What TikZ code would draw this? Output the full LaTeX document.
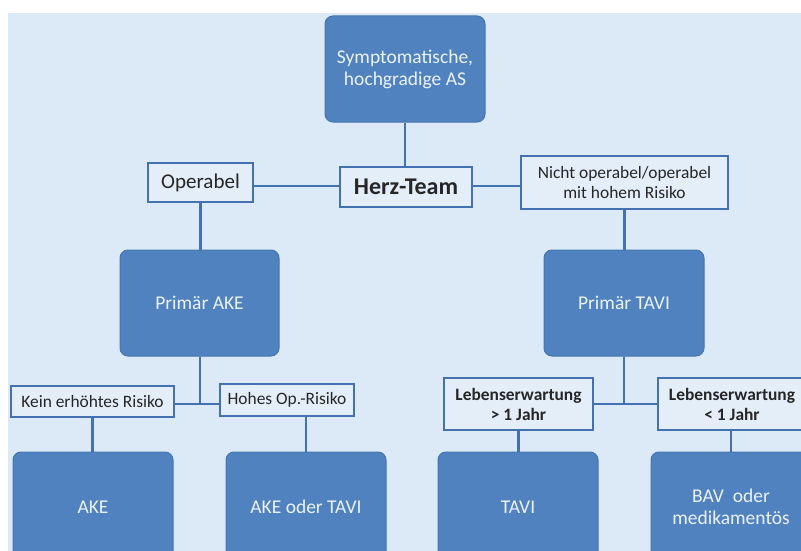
\documentclass[tikz,border=0pt]{standalone}
\usepackage{fontspec}
\setmainfont{Carlito}
\definecolor{bgblue}{RGB}{220,233,246}
\definecolor{lblfill}{RGB}{228,238,249}
\definecolor{boxblue}{RGB}{79,130,190}
\definecolor{boxedge}{RGB}{70,118,176}
\definecolor{linecol}{RGB}{68,114,176}
\definecolor{boxtext}{RGB}{236,242,250}
\tikzset{
  bluebox/.style={draw=boxedge, line width=1pt, fill=boxblue, rounded corners=8pt, text=boxtext, align=center, inner sep=0pt, font=\fontsize{19.5}{22}\selectfont},
  lblbox/.style={draw=linecol, line width=2.6pt, fill=lblfill, text=black!85, align=center, inner sep=0pt, font=\fontsize{17.4}{20}\selectfont},
  conn/.style={draw=linecol, line width=2.8pt}
}
\begin{document}
\begin{tikzpicture}[x=1pt, y=-1pt]
\useasboundingbox (0,0) rectangle (801,551);
\begin{scope}
\clip (0,0) rectangle (801,551);
\fill[white] (0,0) rectangle (801,551);
\fill[bgblue] (8,13) rectangle (801,551);

% blue boxes
\node[bluebox, minimum width=160pt, minimum height=106pt] (top) at (405,69) {Symptomatische,\\hochgradige AS};
\node[bluebox, minimum width=159pt, minimum height=106pt] (pake) at (199.5,303) {Primär AKE};
\node[bluebox, minimum width=160pt, minimum height=106pt] (ptavi) at (624,303) {Primär TAVI};
\node[bluebox, minimum width=160pt, minimum height=110pt] (ake) at (93,507) {AKE};
\node[bluebox, minimum width=160pt, minimum height=110pt] (akt) at (306,507) {AKE oder TAVI};
\node[bluebox, minimum width=160pt, minimum height=110pt] (tavi) at (518,507) {TAVI};
\node[bluebox, minimum width=160pt, minimum height=110pt] (bav) at (731,507) {BAV\ \ oder\\medikamentös};

% label boxes
\node[lblbox, minimum width=132pt, minimum height=40pt, font=\fontsize{24}{26}\selectfont\bfseries] (herz) at (406,187) {Herz-Team};
\node[lblbox, minimum width=105pt, minimum height=39pt, font=\fontsize{21}{24}\selectfont] (oper) at (200.5,182.5) {Operabel};
\node[lblbox, minimum width=207pt, minimum height=53pt] (nicht) at (624.5,182.5) {Nicht operabel/operabel\\mit hohem Risiko};
\node[lblbox, minimum width=163pt, minimum height=31pt] (kein) at (92.5,401.5) {Kein erhöhtes Risiko};
\node[lblbox, minimum width=134pt, minimum height=32pt] (hohes) at (287,400) {Hohes Op.-Risiko};
\node[lblbox, minimum width=149pt, minimum height=52pt, font=\fontsize{17.4}{20}\selectfont\bfseries] (leb1) at (518.5,404) {Lebenserwartung\\> 1 Jahr};
\node[lblbox, minimum width=148pt, minimum height=52pt, font=\fontsize{17.4}{20}\selectfont\bfseries] (leb2) at (732,404) {Lebenserwartung\\< 1 Jahr};

% connectors
\coordinate (h) at (405,186);
\coordinate (j1) at (200,404);
\coordinate (j2) at (624,404);
\draw[conn] (top.south) -- (top.south |- herz.north);
\draw[conn] (oper.east |- h) -- (herz.west |- h);
\draw[conn] (herz.east |- h) -- (nicht.west |- h);
\draw[conn] (oper.south) -- (oper.south |- pake.north);
\draw[conn] (nicht.south) -- (nicht.south |- ptavi.north);
\draw[conn] (pake.south -| j1) -- (j1);
\draw[conn] (kein.east |- j1) -- (hohes.west |- j1);
\draw[conn] (ptavi.south -| j2) -- (j2);
\draw[conn] (leb1.east |- j2) -- (leb2.west |- j2);
\draw[conn] (kein.south) -- (kein.south |- ake.north);
\draw[conn] (hohes.south -| akt.north) -- (akt.north);
\draw[conn] (leb1.south) -- (leb1.south |- tavi.north);
\draw[conn] (leb2.south -| bav.north) -- (bav.north);
\end{scope}
\end{tikzpicture}
\end{document}
